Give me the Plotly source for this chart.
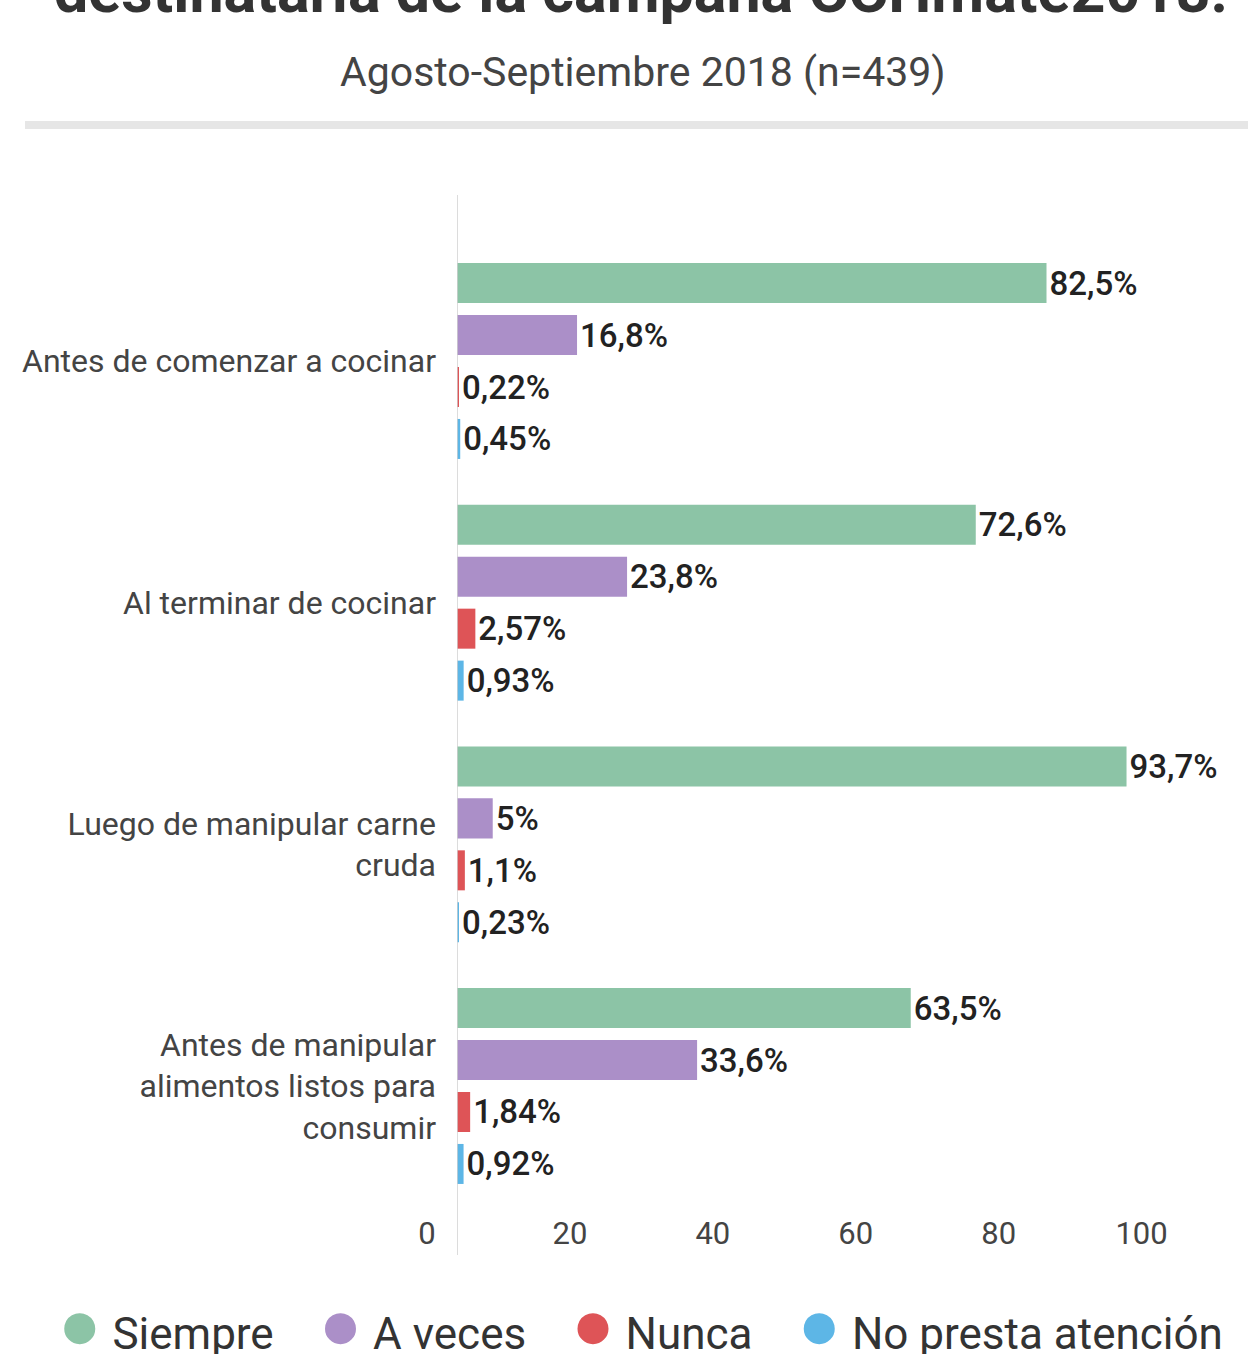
import plotly.graph_objects as go

categories = [
    "Antes de comenzar a cocinar",
    "Al terminar de cocinar",
    "Luego de manipular carne<br>cruda",
    "Antes de manipular<br>alimentos listos para<br>consumir",
]
series_names = ["Siempre", "A veces", "Nunca", "No presta atención"]
siempre = [82.5, 72.6, 93.7, 63.5]
a_veces = [16.8, 23.8, 5, 33.6]
nunca = [0.22, 2.57, 1.1, 1.84]
no_presta = [0.45, 0.93, 0.23, 0.92]
colors = ["#8cc4a6", "#ab8fc8", "#de5457", "#5db6e6"]
x_ticks = [0, 20, 40, 60, 80, 100]

title_text = "destinataria de la campaña CCHmate2018:"
subtitle_text = "Agosto-Septiembre 2018 (n=439)"

W, H = 1248, 1354
L, R, T, B = 457, 5, 195, 142
PH = H - T - B


def py(p):
    return (H - B - p) / PH


def px(p):
    return (p - L) / (W - L - R)


def fmt(v):
    return f"{v:g}".replace(".", ",") + "%"


fig = go.Figure()
for name, vals, col in zip(series_names, [siempre, a_veces, nunca, no_presta], colors):
    fig.add_trace(go.Bar(
        y=categories, x=vals, orientation="h", name=name,
        marker=dict(color=col, line=dict(width=0)),
        text=[fmt(v) for v in vals], textposition="outside",
        constraintext="none", cliponaxis=False,
        textfont=dict(family="Roboto", size=33, color="#222222", weight=500),
        showlegend=False, hoverinfo="skip",
    ))
for name, col in zip(series_names, colors):
    fig.add_trace(go.Scatter(
        x=[None], y=[None], mode="markers",
        name=f"<span style='color:{col};font-size:72px'>●</span> {name}",
        marker=dict(color="rgba(0,0,0,0)", size=1, opacity=0, line=dict(width=0)),
        showlegend=True,
    ))

fig.update_layout(
    width=W, height=H,
    margin=dict(l=L, r=R, t=T, b=B, autoexpand=False),
    paper_bgcolor="white", plot_bgcolor="white",
    barmode="group", bargap=0.14, bargroupgap=0.23,
    font=dict(family="Roboto", color="#444444"),
    showlegend=True,
    legend=dict(orientation="h", xref="paper", x=px(18), xanchor="left",
                y=py(1332), yanchor="middle", itemwidth=30, tracegroupgap=0,
                font=dict(size=44, color="#333333"),
                bgcolor="rgba(0,0,0,0)"),
    xaxis=dict(range=[0, 110], tickvals=x_ticks, ticktext=[str(t) for t in x_ticks],
               showgrid=False, zeroline=False, showline=False,
               tickfont=dict(size=31, color="#444444"), ticklabelshift=-30,
               ticks="", ticklabelstandoff=0),
    yaxis=dict(range=[3 + (H - B - 1086) / 241.7, -0.687], showgrid=False,
               zeroline=False, showline=False,
               tickfont=dict(size=32, color="#444444"), ticks="", ticklabelstandoff=20),
)

fig.add_shape(type="line", xref="x", yref="paper", x0=0, x1=0, y0=1, y1=py(1255),
              line=dict(color="#d0d0d0", width=1.5))
fig.add_shape(type="line", xref="paper", yref="paper", x0=px(25), x1=px(1248),
              y0=py(125), y1=py(125), line=dict(color="#e6e6e6", width=8))

fig.add_annotation(text=subtitle_text, xref="paper", yref="paper", x=px(643), y=py(72),
                   xanchor="center", yanchor="middle", showarrow=False,
                   font=dict(family="Roboto", size=41, color="#444444"))
fig.add_annotation(text="<b>" + title_text + "</b>", xref="paper", yref="paper",
                   x=px(52), y=py(-9), xanchor="left", yanchor="middle", showarrow=False,
                   font=dict(family="Roboto", size=61, color="#333333"))

fig.write_html("out.html", config={"displayModeBar": False},
               post_script="document.body.style.margin='0';")
